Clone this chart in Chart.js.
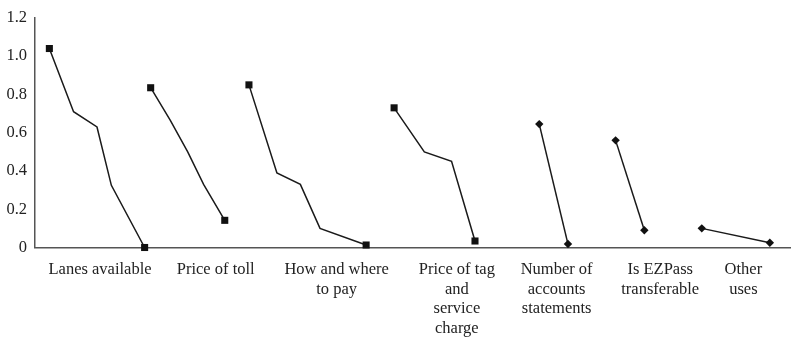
<!DOCTYPE html>
<html>
<head>
<meta charset="utf-8">
<script src="https://cdn.jsdelivr.net/npm/chart.js@4/dist/chart.umd.min.js"></script>
<style>
  body { margin: 0; background: #fff; }
  #wrap { width: 791px; height: 338px; }
</style>
</head>
<body>
<div id="wrap"><canvas id="myChart"></canvas></div>
<script>
// category labels and where they sit on the x scale (0..100)
const categories = [
  'Lanes available',
  'Price of toll',
  ['How and where', 'to pay'],
  ['Price of tag', 'and', 'service', 'charge'],
  ['Number of', 'accounts', 'statements'],
  ['Is EZPass', 'transferable'],
  ['Other', 'uses']
];
const categoryX = [8.6, 23.9, 39.9, 55.8, 69.0, 82.7, 93.7];

const yTicks = [0, 0.2, 0.4, 0.6, 0.8, 1.0, 1.2];

// series
const lanesX = [1.9, 5.1, 8.2, 10.1, 14.5];
const lanesY = [1.04, 0.71, 0.63, 0.325, 0];
const tollX = [15.3, 17.9, 20.2, 22.3, 25.1];
const tollY = [0.835, 0.665, 0.50, 0.33, 0.142];
const payX = [28.3, 32.0, 35.1, 37.7, 43.8];
const payY = [0.85, 0.39, 0.33, 0.10, 0.013];
const tagX = [47.5, 51.5, 55.1, 58.2];
const tagY = [0.73, 0.50, 0.45, 0.034];
const accountsX = [66.7, 70.5];
const accountsY = [0.645, 0.018];
const transferX = [76.8, 80.6];
const transferY = [0.56, 0.09];
const otherX = [88.2, 97.2];
const otherY = [0.10, 0.025];

function series(xs, ys, style) {
  return {
    data: xs.map((x, i) => ({ x: x, y: ys[i] })),
    showLine: true,
    borderColor: '#1a1a1a',
    backgroundColor: '#111',
    borderWidth: 1.5,
    tension: 0,
    clip: false,
    pointStyle: style,
    pointRadius: ctx => (ctx.dataIndex === 0 || ctx.dataIndex === xs.length - 1) ? (style === 'rect' ? 5 : 4.2) : 0,
    pointBorderWidth: 0,
    pointHoverRadius: 0
  };
}

const config = {
  type: 'scatter',
  data: {
    datasets: [
      series(lanesX, lanesY, 'rect'),
      series(tollX, tollY, 'rect'),
      series(payX, payY, 'rect'),
      series(tagX, tagY, 'rect'),
      series(accountsX, accountsY, 'rectRot'),
      series(transferX, transferY, 'rectRot'),
      series(otherX, otherY, 'rectRot')
    ]
  },
  options: {
    responsive: true,
    maintainAspectRatio: false,
    animation: false,
    layout: { autoPadding: false, padding: { top: 14, left: 0, right: 0, bottom: 0 } },
    plugins: { legend: { display: false }, tooltip: { enabled: false } },
    scales: {
      x: {
        type: 'linear',
        min: 0,
        max: 100,
        grid: { display: false, drawTicks: false },
        border: { display: true, color: '#555', width: 1.5 },
        afterBuildTicks: scale => { scale.ticks = categoryX.map(v => ({ value: v })); },
        afterFit: scale => { scale.height = 90.5; },
        ticks: {
          autoSkip: false,
          maxRotation: 0,
          padding: 12,
          color: '#222',
          font: { family: 'Liberation Serif', size: 16.5, lineHeight: 1.2 },
          callback: (v, i) => categories[i]
        }
      },
      y: {
        min: 0,
        max: 1.2,
        grid: { display: false, drawTicks: false },
        border: { display: true, color: '#555', width: 1.5 },
        afterBuildTicks: scale => { scale.ticks = yTicks.map(v => ({ value: v })); },
        afterFit: scale => { scale.width = 35; },
        ticks: {
          padding: 8,
          color: '#222',
          font: { family: 'Liberation Serif', size: 16.5 },
          callback: v => v === 0 ? '0' : v.toFixed(1)
        }
      }
    }
  }
};

var ctx = document.getElementById('myChart').getContext('2d');
var chart = new Chart(ctx, config);
</script>
</body>
</html>
